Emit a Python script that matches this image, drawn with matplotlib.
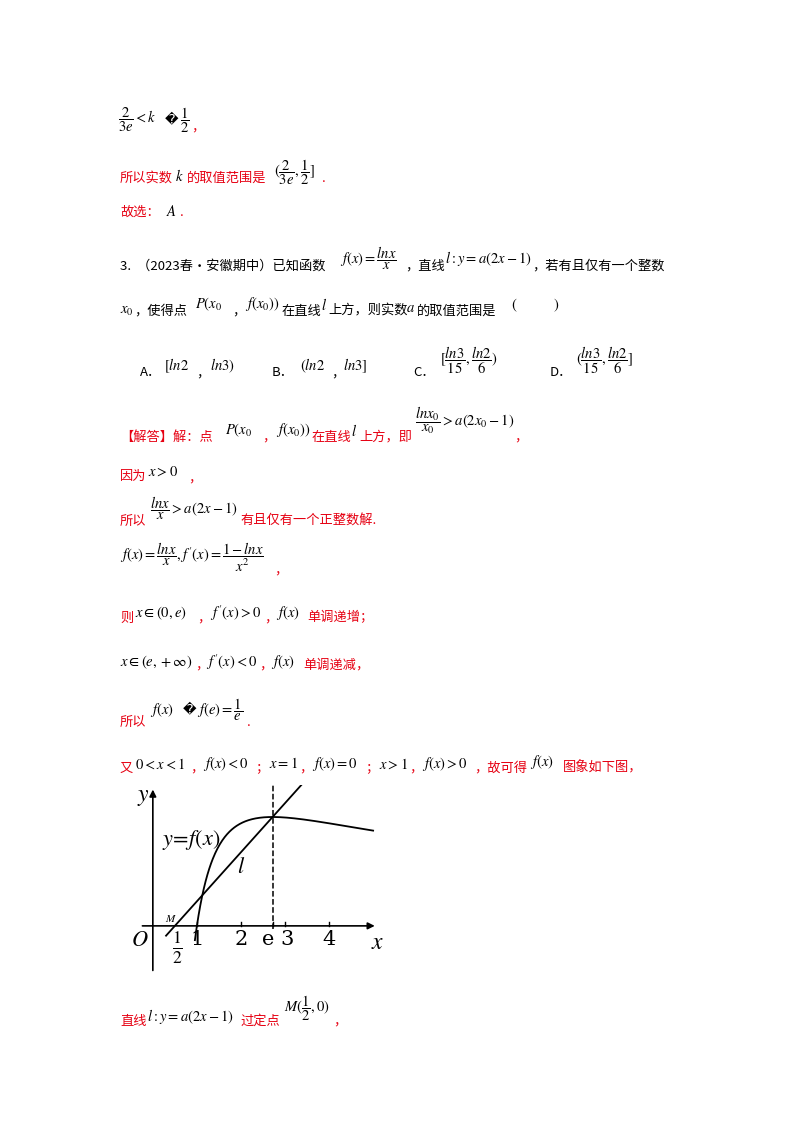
import numpy as np
import matplotlib.pyplot as plt

plt.rcParams['mathtext.fontset'] = 'stix'
cjk = ['Noto Sans CJK SC', 'DejaVu Sans']
RED = '#e60012'
W, H = 800, 1132

# text pieces: (x px, y px, text, colour)
pieces = [
    (118, 120, r'$\dfrac{2}{3e}<k$', 'k'), (165, 120, '\ufffd', 'k'), (180, 120, r'$\dfrac{1}{2}$', 'k'), (191, 127, '，', RED),
    (120, 178, '所以实数', RED), (175, 176, r'$k$', 'k'), (187, 178, '的取值范围是', RED),
    (274, 172, r'$(\dfrac{2}{3e},\dfrac{1}{2}]$', 'k'), (322, 178, '.', RED),
    (120, 212, '故选：', RED), (166, 211, r'$A$', 'k'), (180, 212, '.', RED),
    (120, 266, '3.  （2023春•安徽期中）已知函数', 'k'), (340, 258, r'$f(x)=\dfrac{lnx}{x}$', 'k'),
    (405, 266, '，直线', 'k'), (445, 258, r'$l:y=a(2x-1)$', 'k'), (532, 266, '，若有且仅有一个整数', 'k'),
    (120, 311, r'$x_0$', 'k'), (134, 311, '，使得点', 'k'), (195, 304, r'$P(x_0$', 'k'), (232, 311, '，', 'k'),
    (245, 304, r'$f(x_0))$', 'k'), (281, 311, '在直线', 'k'), (321, 305, r'$l$', 'k'),
    (328, 311, '上方，则实数', 'k'), (406, 308, r'$a$', 'k'), (417, 311, '的取值范围是', 'k'),
    (511, 305, r'$($', 'k'), (553, 305, r'$)$', 'k'),
    (140, 373, 'A．', 'k'), (164, 366, r'$[ln2$', 'k'), (196, 373, '，', 'k'), (210, 366, r'$ln3)$', 'k'),
    (272, 373, 'B．', 'k'), (300, 366, r'$(ln2$', 'k'), (331, 373, '，', 'k'), (343, 366, r'$ln3]$', 'k'),
    (413, 373, 'C．', 'k'), (440, 360, r'$[\dfrac{ln3}{15},\dfrac{ln2}{6})$', 'k'),
    (550, 373, 'D．', 'k'), (576, 360, r'$(\dfrac{ln3}{15},\dfrac{ln2}{6}]$', 'k'),
    (120, 437, '【解答】解：点', RED), (225, 430, r'$P(x_0$', 'k'), (262, 437, '，', RED),
    (276, 430, r'$f(x_0))$', 'k'), (311, 437, '在直线', RED), (351, 431, r'$l$', 'k'), (359, 437, '上方，即', RED),
    (415, 420, r'$\dfrac{lnx_0}{x_0}>a(2x_0-1)$', 'k'), (514, 437, '，', RED),
    (120, 476, '因为', RED), (148, 472, r'$x>0$', 'k'), (188, 478, '，', RED),
    (120, 521, '所以', RED), (150, 508, r'$\dfrac{lnx}{x}>a(2x-1)$', 'k'), (240, 521, '有且仅有一个正整数解.', RED),
    (120, 557, r"$f(x)=\dfrac{lnx}{x},f'(x)=\dfrac{1-lnx}{x^2}$", 'k'), (274, 570, '，', RED),
    (120, 618, '则', RED), (135, 613, r'$x\in(0,e)$', 'k'), (197, 618, '，', RED), (210, 613, r"$f'(x)>0$", 'k'),
    (264, 618, '，', RED), (276, 613, r'$f(x)$', 'k'), (307, 618, '单调递增；', RED),
    (120, 662, r'$x\in(e,+\infty)$', 'k'), (195, 665, '，', RED), (206, 662, r"$f'(x)<0$", 'k'),
    (259, 665, '，', RED), (271, 662, r'$f(x)$', 'k'), (303, 665, '单调递减，', RED),
    (120, 722, '所以', RED), (150, 710, r'$f(x)$', 'k'), (183, 710, '\ufffd', 'k'), (197, 710, r'$f(e)=\dfrac{1}{e}$', 'k'),
    (247, 722, '.', RED),
    (120, 768, '又', RED), (135, 764, r'$0<x<1$', 'k'), (190, 768, '，', RED), (203, 764, r'$f(x)<0$', 'k'),
    (255, 768, '；', RED), (269, 764, r'$x=1$', 'k'), (299, 768, '，', RED), (312, 764, r'$f(x)=0$', 'k'),
    (365, 768, '；', RED), (379, 764, r'$x>1$', 'k'), (409, 768, '，', RED), (422, 764, r'$f(x)>0$', 'k'),
    (474, 768, '，故可得', RED), (530, 762, r'$f(x)$', 'k'), (563, 768, '图象如下图，', RED),
    (120, 1021, '直线', RED), (147, 1016, r'$l:y=a(2x-1)$', 'k'), (240, 1021, '过定点', RED),
    (284, 1008, r'$M(\dfrac{1}{2},0)$', 'k'), (333, 1021, '，', RED),
]

fig = plt.figure(figsize=(W / 100, H / 100), dpi=100)
for x, y, s, c in pieces:
    size = 10.5 if s.startswith('$') else 9.5
    fig.text(x / W, 1 - y / H, s, color=c, fontsize=size, family=cjk, va='center', ha='left')

# graph of f(x) = ln x / x and line l through M(1/2, 0) and (e, 1/e)
xs = np.linspace(0.955, 5.0, 300)
fx = np.log(xs) / xs
slope = (1 / np.e) / (np.e - 0.5)
lx = np.array([0.3, 3.4])
ly = slope * (lx - 0.5)
x_ticks = [1, 2, 3, 4]

left, right, top, bottom = 122, 385, 785, 975
ax = fig.add_axes([left / W, 1 - bottom / H, (right - left) / W, (bottom - top) / H])
ax.set_xlim(-0.7, 5.27)
ax.set_ylim(-0.166, 0.476)
ax.axis('off')
ax.plot(xs, fx, color='k', lw=1.3)
ax.plot(lx, ly, color='k', lw=1.3)
ax.plot([np.e, np.e], [-0.01, 0.476], color='k', lw=1.1, ls='--')
ax.annotate('', xy=(5.1, 0), xytext=(-0.3, 0), arrowprops=dict(arrowstyle='-|>', color='k', lw=1.2))
ax.annotate('', xy=(0, 0.47), xytext=(0, -0.16), arrowprops=dict(arrowstyle='-|>', color='k', lw=1.2))
for t in [1, 2, 3, 4, np.e]:
    ax.plot([t, t], [0, 0.012], color='k', lw=1)
kw = dict(fontsize=15, family='DejaVu Serif', ha='center', va='top')
for t in x_ticks:
    ax.text(t + (0.05 if t == 3 else 0), -0.015, str(t), **kw)
ax.text(np.e - 0.1, -0.015, 'e', **kw)
ax.text(-0.3, -0.015, r'$O$', fontsize=16, ha='center', va='top')
ax.text(0.55, -0.012, r'$\frac{1}{2}$', fontsize=18, ha='center', va='top')
ax.text(0.42, 0.008, r'$M$', fontsize=8, ha='center', va='bottom')
ax.text(5.1, -0.015, r'$x$', fontsize=17, ha='center', va='top')
ax.text(-0.22, 0.44, r'$y$', fontsize=17, ha='center', va='center')
ax.text(0.2, 0.29, r'$y\!=\!f(x)$', fontsize=16, ha='left', va='center')
ax.text(2.0, 0.2, r'$l$', fontsize=16, ha='center', va='center')

fig.savefig('out.png', dpi=100)
